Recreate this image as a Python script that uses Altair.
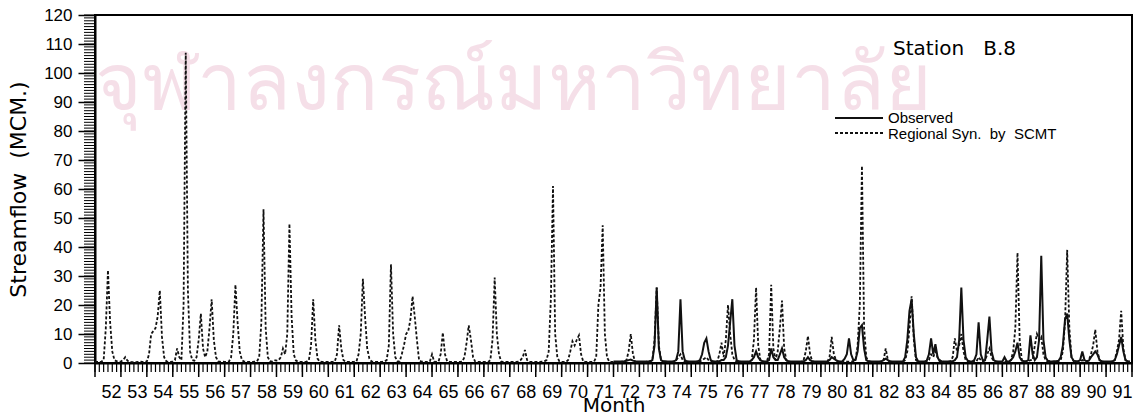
import altair as alt
import pandas as pd

# ---------------- data (monthly streamflow, MCM) ----------------
YEAR_LABELS = ['52', '53', '54', '55', '56', '57', '58', '59', '60', '61',
               '62', '63', '64', '65', '66', '67', '68', '69', '70', '71',
               '72', '73', '74', '75', '76', '77', '78', '79', '80', '81',
               '82', '83', '84', '85', '86', '87', '88', '89', '90', '91']

# Regional synthetic by SCMT, one row of 12 months per year 52..91
SYNTHETIC = [
    [0.5, 0.4, 0.3, 0.5, 1, 12, 32, 14, 4, 1, 0.6, 0.5],        # 52
    [0.5, 1, 2, 0.8, 0.4, 0.3, 0.3, 0.3, 0.4, 0.5, 0.4, 0.4],    # 53
    [0.5, 3, 10, 11, 12, 16, 25, 9, 2, 0.6, 0.4, 0.4],           # 54
    [0.5, 1, 5, 2, 1, 20, 107, 25, 4, 1, 0.8, 2],                # 55
    [8, 17, 5, 2, 4, 12, 22, 8, 2, 0.6, 0.4, 0.5],               # 56
    [0.4, 0.4, 0.5, 2, 10, 27, 14, 4, 1, 0.5, 0.4, 0.4],         # 57
    [0.4, 0.4, 0.5, 0.6, 2, 14, 53, 12, 2, 0.6, 0.5, 1],         # 58
    [0.8, 1, 2, 5, 3, 10, 48, 16, 3, 0.8, 0.5, 0.4],             # 59
    [0.4, 0.4, 0.5, 1, 6, 22, 8, 1.5, 0.5, 0.4, 0.4, 0.4],       # 60
    [0.4, 0.4, 0.4, 0.5, 3, 13, 5, 1, 0.4, 0.4, 0.4, 0.4],       # 61
    [0.4, 0.5, 3, 10, 29, 16, 5, 1.5, 0.5, 0.4, 0.4, 0.4],       # 62
    [0.4, 0.4, 0.5, 1, 6, 34, 10, 2, 0.6, 0.5, 3, 6],            # 63
    [10, 11, 15, 23, 16, 8, 1, 0.5, 0.4, 0.4, 0.4, 0.5],         # 64
    [3, 0.5, 0.4, 0.5, 3, 10.5, 3, 0.6, 0.4, 0.4, 0.4, 0.4],     # 65
    [0.4, 0.4, 0.5, 2, 7, 13, 8, 2, 0.5, 0.4, 0.4, 0.4],         # 66
    [0.4, 0.4, 0.4, 1, 8, 29.5, 10, 3, 0.5, 0.4, 0.4, 0.4],      # 67
    [0.4, 0.4, 0.4, 0.4, 0.5, 1, 2, 4.5, 1, 0.4, 0.4, 0.4],      # 68
    [0.4, 0.4, 0.4, 0.5, 0.6, 1, 4, 22, 61, 10, 2, 0.5],         # 69
    [0.4, 0.4, 0.4, 1, 4, 7.5, 6, 8, 9.5, 3, 0.5, 0.4],          # 70
    [0.4, 0.4, 0.4, 0.5, 2, 20, 26, 47.5, 10, 2, 0.5, 0.4],      # 71
    [0.4, 0.4, 0.4, 0.4, 0.5, 0.5, 1, 4, 10, 3, 0.5, 0.4],       # 72
    [0.4, 0.4, 0.4, 0.4, 0.5, 0.6, 1, 8, 26, 6, 1, 0.5],         # 73
    [0.4, 0.4, 0.4, 0.4, 0.5, 1, 2, 3, 1, 0.5, 0.4, 0.4],        # 74
    [0.4, 0.4, 0.4, 0.4, 0.5, 1, 1.5, 2, 1, 0.5, 0.4, 0.4],      # 75
    [0.5, 3, 7, 2, 8, 20, 10, 3, 1, 0.5, 0.4, 0.4],              # 76
    [0.4, 0.4, 0.4, 0.5, 1, 8, 26, 6, 1, 0.5, 0.4, 0.6],         # 77
    [3, 27, 5, 1, 4, 12, 21.5, 5, 1, 0.5, 0.4, 0.4],             # 78
    [0.4, 0.4, 0.4, 0.4, 1, 4, 9.3, 3, 0.6, 0.4, 0.4, 0.4],      # 79
    [0.4, 0.4, 0.4, 0.5, 2, 9, 3, 1, 0.5, 0.4, 0.4, 0.4],        # 80
    [0.5, 0.5, 0.5, 0.6, 1, 6, 20, 68, 12, 2, 0.6, 0.5],         # 81
    [0.4, 0.4, 0.4, 0.4, 0.5, 1, 5, 1, 0.4, 0.4, 0.4, 0.4],      # 82
    [0.4, 0.4, 0.4, 1, 4, 12, 23, 8, 1, 0.5, 0.4, 0.4],          # 83
    [0.4, 0.5, 1, 3, 2, 4, 2, 1, 0.5, 0.4, 0.4, 0.5],            # 84
    [0.6, 2, 8.5, 4, 6, 10, 4, 1, 0.6, 0.5, 0.4, 0.5],           # 85
    [0.5, 2, 1, 0.5, 1, 3, 5, 2, 0.6, 0.4, 0.4, 0.4],            # 86
    [0.4, 0.4, 0.4, 0.5, 1, 4, 12, 38, 8, 1, 0.5, 0.5],          # 87
    [0.5, 1, 1, 6, 10, 8, 9, 3, 1, 0.5, 0.4, 0.4],               # 88
    [0.5, 0.5, 0.6, 1, 4, 14, 39, 12, 2, 0.6, 0.5, 0.5],         # 89
    [0.5, 1, 0.6, 0.5, 1, 3, 6, 11.5, 4, 1, 0.5, 0.4],           # 90
    [0.4, 0.4, 0.4, 0.5, 1, 4, 8, 18, 5, 1, 0.5, 0.4],           # 91
]

# Observed record starts in year 72
OBSERVED_FIRST_YEAR_INDEX = 20
OBSERVED = [
    [0.5, 0.5, 0.5, 0.5, 0.5, 0.6, 0.8, 1, 1.2, 0.8, 0.6, 0.5],  # 72
    [0.5, 0.5, 0.5, 0.5, 0.5, 0.6, 1, 6, 26, 5, 1, 0.6],         # 73
    [0.6, 0.5, 0.5, 0.5, 0.6, 1, 4, 22, 4, 1, 0.6, 0.5],         # 74
    [0.5, 0.5, 0.5, 0.6, 1, 3, 7, 8.5, 4, 1, 0.6, 0.5],          # 75
    [0.5, 0.6, 1, 1, 2, 6, 14, 22, 6, 1, 0.6, 0.5],              # 76
    [0.5, 0.5, 0.5, 0.5, 1, 2, 4, 2, 1, 0.6, 0.5, 0.5],          # 77
    [1, 5, 2, 1, 1, 3, 5, 2, 1, 0.6, 0.5, 0.5],                  # 78
    [0.5, 0.5, 0.5, 0.5, 0.6, 1, 2, 1, 0.6, 0.5, 0.5, 0.5],      # 79
    [0.5, 0.5, 0.5, 0.5, 1, 2, 1.5, 1, 0.6, 0.5, 0.6, 1.5],      # 80
    [3, 8.5, 3, 1, 1, 4, 12, 13, 5, 1, 0.6, 0.5],                # 81
    [0.5, 0.5, 0.5, 0.5, 0.6, 1, 1.5, 1, 0.6, 0.5, 0.5, 0.5],    # 82
    [0.5, 0.5, 0.5, 2, 8, 18, 22, 10, 2, 0.6, 0.5, 0.5],         # 83
    [0.5, 0.8, 3, 8.5, 3, 6.5, 2, 0.6, 0.5, 0.5, 0.5, 0.5],      # 84
    [0.5, 0.6, 1, 2, 8, 26, 8, 2, 0.8, 0.5, 0.5, 1],             # 85
    [3, 14, 3, 0.8, 1, 8, 16, 4, 1, 0.6, 0.5, 0.5],              # 86
    [0.5, 2, 0.6, 0.5, 1, 2, 4, 7, 2, 0.8, 0.6, 0.6],            # 87
    [1, 9.5, 3, 1, 2, 8, 37, 8, 2, 0.8, 0.6, 0.5],               # 88
    [0.6, 0.6, 0.8, 2, 6, 15, 17, 8, 2, 0.8, 0.6, 0.6],          # 89
    [1, 4, 1, 0.6, 0.8, 2, 3, 4, 3, 1, 0.6, 0.5],                # 90
    [0.5, 0.5, 0.5, 0.6, 1, 3, 6, 9, 4, 1, 0.6, 0.5],            # 91
]

NB = '\u00a0'
LEGEND_LABELS = ['Observed', 'Regional' + NB + 'Syn.' + NB * 2 + 'by' + NB * 2 + 'SCMT']
STATION_TITLE = 'Station' + NB * 3 + 'B.8'
Y_TITLE = 'Streamflow' + NB * 2 + '(MCM.)'
X_TITLE = 'Month'
WATERMARK = 'จุฬาลงกรณ์มหาวิทยาลัย'

# tick positions (axis furniture)
Y_MAJOR_TICKS = list(range(0, 121, 10))
Y_MINOR_TICKS = list(range(0, 121))
X_MONTH_TICKS = list(range(0, 12 * len(YEAR_LABELS) + 1, 2))
X_YEAR_TICKS = list(range(0, 12 * len(YEAR_LABELS) + 1, 12))
X_LABEL_POS = [12 * k + 6 for k in range(len(YEAR_LABELS))]


def to_frame(rows, first_index):
    recs = []
    for k, yr in enumerate(rows):
        for j, v in enumerate(yr):
            recs.append({'m': 12 * (first_index + k) + j, 'v': v})
    return pd.DataFrame(recs)


df_syn = to_frame(SYNTHETIC, 0)
df_obs = to_frame(OBSERVED, OBSERVED_FIRST_YEAR_INDEX)
n_months = 12 * len(YEAR_LABELS)

W, H = 1037, 348
xs = alt.Scale(domain=[0, n_months], nice=False, zero=False)
ys = alt.Scale(domain=[0, 120], nice=False)

label_array = "[" + ",".join("'%s'" % s for s in YEAR_LABELS) + "]"

x_axis = alt.Axis(
    orient='bottom', values=X_LABEL_POS, tickCount=len(X_LABEL_POS),
    ticks=False, domainColor='black', domainWidth=2,
    labelExpr=label_array + "[floor(datum.value / 12)]",
    labelFont='Liberation Sans', labelFontSize=18, labelColor='black',
    labelPadding=20, labelOverlap=False, labelFlush=False, labelAngle=0,
    labelOffset=3, grid=False,
    title=X_TITLE, titleFont='DejaVu Sans', titleFontSize=20,
    titleFontWeight='normal', titleColor='black', titleX=W / 2, titleY=48,
    titleBaseline='alphabetic', titleAlign='center')

y_axis = alt.Axis(
    orient='left', values=Y_MAJOR_TICKS, tickCount=len(Y_MAJOR_TICKS),
    tickSize=17, tickWidth=1.5,
    tickColor='black', domainColor='black', domainWidth=2,
    labelFont='Liberation Sans', labelFontSize=17, labelColor='black',
    labelPadding=6, grid=False,
    title=Y_TITLE, titleFont='DejaVu Sans', titleFontSize=22,
    titleFontWeight='normal', titleColor='black', titleX=-77, titleY=H / 2,
    titleAngle=270, titleAlign='center', titleBaseline='middle')

one = pd.DataFrame({'k': [0]})

watermark = alt.Chart(one).mark_text(
    text=WATERMARK, fontSize=80, color='#f5dfe8',
    align='left', baseline='alphabetic').encode(
    x=alt.value(0), y=alt.value(95))

syn = alt.Chart(df_syn).mark_line(
    color='#111111', strokeWidth=1.8, strokeDash=[3, 2]).encode(
    x=alt.X('m:Q', scale=xs, axis=x_axis),
    y=alt.Y('v:Q', scale=ys, axis=y_axis))

obs = alt.Chart(df_obs).mark_line(color='#111111', strokeWidth=2).encode(
    x=alt.X('m:Q', scale=xs, axis=x_axis),
    y=alt.Y('v:Q', scale=ys, axis=y_axis))

# axis tick furniture drawn through the shared scales (same axis spec)
y_minor = alt.Chart(pd.DataFrame({'m': [0] * len(Y_MINOR_TICKS), 'v': Y_MINOR_TICKS})).mark_rule(
    color='black', strokeWidth=1).encode(
    y=alt.Y('v:Q', scale=ys, axis=y_axis), x=alt.value(-11), x2=alt.value(0))
x_minor = alt.Chart(pd.DataFrame({'m': X_MONTH_TICKS})).mark_rule(
    color='black', strokeWidth=1.2).encode(
    x=alt.X('m:Q', scale=xs, axis=x_axis), y=alt.value(H), y2=alt.value(H + 9))
x_major = alt.Chart(pd.DataFrame({'m': X_YEAR_TICKS})).mark_rule(
    color='black', strokeWidth=1.5).encode(
    x=alt.X('m:Q', scale=xs, axis=x_axis), y=alt.value(H), y2=alt.value(H + 14))

leg_solid = alt.Chart(one).mark_rule(color='#111111', strokeWidth=2).encode(
    x=alt.value(740), x2=alt.value(788), y=alt.value(103))
leg_dash = alt.Chart(one).mark_rule(
    color='#111111', strokeWidth=1.8, strokeDash=[3, 2]).encode(
    x=alt.value(740), x2=alt.value(788), y=alt.value(118))
leg_t1 = alt.Chart(one).mark_text(
    text=LEGEND_LABELS[0], font='Liberation Sans', fontSize=15, color='black',
    align='left', baseline='middle').encode(x=alt.value(793), y=alt.value(103))
leg_t2 = alt.Chart(one).mark_text(
    text=LEGEND_LABELS[1], font='Liberation Sans', fontSize=15, color='black',
    align='left', baseline='middle').encode(x=alt.value(793), y=alt.value(119))
station = alt.Chart(one).mark_text(
    text=STATION_TITLE, font='DejaVu Sans', fontSize=20, color='black',
    align='left', baseline='alphabetic').encode(x=alt.value(798), y=alt.value(40))

chart = alt.layer(
    watermark, syn, obs, y_minor, x_minor, x_major,
    leg_solid, leg_dash, leg_t1, leg_t2, station
).properties(
    width=W, height=H,
    autosize=alt.AutoSizeParams(type='none'),
    padding={'left': 95, 'top': 15, 'right': 1147 - 95 - W, 'bottom': 416 - 15 - H},
    background='white'
).configure_view(
    stroke='black', strokeWidth=2
)

chart.save("out.html", embed_options={"renderer": "svg", "actions": False})
